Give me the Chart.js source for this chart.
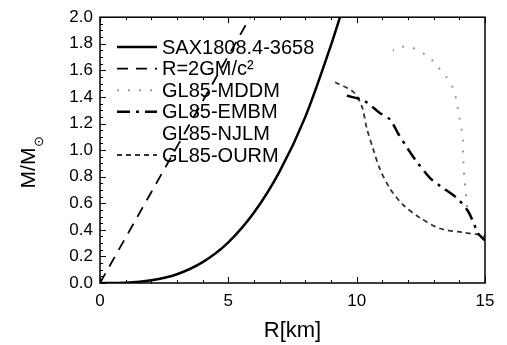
<!DOCTYPE html>
<html>
<head>
<meta charset="utf-8">
<script src="https://cdn.jsdelivr.net/npm/chart.js@4"></script>
<style>
  html, body { margin: 0; padding: 0; background: #fff; }
  #wrap { width: 507px; height: 345px; }
</style>
</head>
<body>
<div id="wrap"><canvas id="mrChart" width="507" height="345"></canvas></div>
<script>
// radius (km) and mass (M/Msun)
const saxR = [0, 1, 2, 3, 4, 5, 6, 7, 8, 9, 9.35]
const saxM = [0, 0.0025, 0.02, 0.066, 0.157, 0.306, 0.53, 0.84, 1.25, 1.79, 2.0]

const schwR = [0, 5.85]
const schwM = [0, 2.0]

const mddmR = [14.3, 14.26, 14.22, 14.18, 14.14, 14.14, 14.06, 13.8, 13.56, 13.28, 12.86, 12.39, 11.92, 11.41]
const mddmM = [0.57, 0.66, 0.75, 0.84, 1.0, 1.09, 1.18, 1.44, 1.53, 1.6, 1.69, 1.75, 1.78, 1.75]

const embmR = [9.62, 10.3, 10.9, 11.3, 11.6, 11.96, 12.35, 12.86, 13.25, 13.9, 14.34, 14.6, 14.7, 15.0]
const embmM = [1.41, 1.37, 1.28, 1.23, 1.13, 1.02, 0.91, 0.79, 0.73, 0.64, 0.54, 0.43, 0.38, 0.32]

const njlmR = []
const njlmM = []

const ourmR = [9.16, 9.86, 10.2, 10.4, 10.64, 10.9, 11.3, 11.8, 12.47, 13.25, 14.14, 14.9, 15.0]
const ourmM = [1.51, 1.44, 1.33, 1.16, 1.01, 0.86, 0.71, 0.59, 0.49, 0.41, 0.38, 0.36, 0.35]

const xTicks = [0, 5, 10, 15]
const yTicks = [0, 0.2, 0.4, 0.6, 0.8, 1.0, 1.2, 1.4, 1.6, 1.8, 2.0]

const pts = (rs, ms) => rs.map((r, i) => ({ x: r, y: ms[i] }))

const FONT = '"Liberation Sans", Arial, sans-serif'

// inward ticks + box frame
const framePlugin = {
  id: 'frame',
  afterDraw(chart) {
    const { ctx, chartArea: a, scales: { x, y } } = chart
    ctx.save()
    ctx.strokeStyle = '#000'
    ctx.lineWidth = 1.5
    ctx.strokeRect(a.left, a.top, a.right - a.left, a.bottom - a.top)
    ctx.lineWidth = 1
    ctx.beginPath()
    for (let v = 0; v <= 15; v++) {
      const px = Math.round(x.getPixelForValue(v)) + 0.5
      const len = v % 5 === 0 ? 6 : 3
      ctx.moveTo(px, a.bottom); ctx.lineTo(px, a.bottom - len)
      ctx.moveTo(px, a.top); ctx.lineTo(px, a.top + len)
    }
    for (let k = 0; k <= 40; k++) {
      const py = Math.round(y.getPixelForValue(k * 0.05)) + 0.5
      const len = k % 4 === 0 ? 6 : 3
      ctx.moveTo(a.left, py); ctx.lineTo(a.left + len, py)
    }
    ctx.stroke()

    // axis titles
    ctx.fillStyle = '#000'
    ctx.font = '22px ' + FONT
    ctx.textAlign = 'center'
    ctx.textBaseline = 'middle'
    ctx.fillText('R[km]', (a.left + a.right) / 2, 331)

    ctx.translate(29, 162)
    ctx.rotate(-Math.PI / 2)
    ctx.font = '21px ' + FONT
    ctx.textAlign = 'left'
    ctx.textBaseline = 'middle'
    const w = ctx.measureText('M/M').width
    ctx.fillText('M/M', -w / 2 - 6, 0)
    ctx.font = '13px ' + FONT
    ctx.fillText('\u2299', w / 2 - 5, 10)
    ctx.restore()
  }
}

// legend drawn inside the plot, top left
const legendPlugin = {
  id: 'innerLegend',
  afterDatasetsDraw(chart) {
    const { ctx } = chart
    ctx.save()
    ctx.font = '20px ' + FONT
    ctx.textBaseline = 'middle'
    ctx.fillStyle = '#000'
    chart.data.datasets.forEach((ds, i) => {
      const yy = 47 + i * 21.6
      ctx.strokeStyle = ds.borderColor
      ctx.lineWidth = ds.borderWidth
      ctx.setLineDash(ds.borderDash || [])
      ctx.beginPath()
      ctx.moveTo(117, yy)
      ctx.lineTo(157, yy)
      ctx.stroke()
      ctx.fillText(ds.label, 162, yy + 1)
    })
    ctx.restore()
  }
}

const ctx = document.getElementById('mrChart')

new Chart(ctx, {
  type: 'scatter',
  data: {
    datasets: [
      { label: 'SAX1808.4-3658', data: pts(saxR, saxM), borderColor: '#000', borderWidth: 2.5, cubicInterpolationMode: 'monotone' },
      { label: 'R=2GM/c\u00B2', data: pts(schwR, schwM), borderColor: '#000', borderWidth: 1.8, borderDash: [11, 8] },
      { label: 'GL85-MDDM', data: pts(mddmR, mddmM), borderColor: '#9a9a9a', borderWidth: 2, borderDash: [2, 9], tension: 0.4 },
      { label: 'GL85-EMBM', data: pts(embmR, embmM), borderColor: '#000', borderWidth: 2.5, borderDash: [13, 6, 3, 6], tension: 0.3 },
      { label: 'GL85-NJLM', data: pts(njlmR, njlmM), borderColor: 'rgba(0,0,0,0)', borderWidth: 1.5 },
      { label: 'GL85-OURM', data: pts(ourmR, ourmM), borderColor: '#333', borderWidth: 1.8, borderDash: [5, 4], tension: 0.3 }
    ]
  },
  options: {
    responsive: false,
    animation: false,
    showLine: true,
    elements: { point: { radius: 0 }, line: { fill: false } },
    layout: { padding: { left: 0, right: 22, top: 13, bottom: 0 } },
    plugins: {
      legend: { display: false },
      tooltip: { enabled: false }
    },
    scales: {
      x: {
        type: 'linear',
        min: 0,
        max: 15,
        afterBuildTicks: s => { s.ticks = xTicks.map(v => ({ value: v })) },
        afterFit: s => { s.height = 62 },
        ticks: { color: '#000', font: { family: FONT, size: 17 }, padding: 8, maxRotation: 0 },
        grid: { display: false, drawTicks: false },
        border: { display: false }
      },
      y: {
        type: 'linear',
        min: 0,
        max: 2,
        afterBuildTicks: s => { s.ticks = yTicks.map(v => ({ value: v })) },
        afterFit: s => { s.width = 100 },
        ticks: { color: '#000', font: { family: FONT, size: 17 }, padding: 7, callback: v => v.toFixed(1) },
        grid: { display: false, drawTicks: false },
        border: { display: false }
      }
    }
  },
  plugins: [framePlugin, legendPlugin]
})
</script>
</body>
</html>
